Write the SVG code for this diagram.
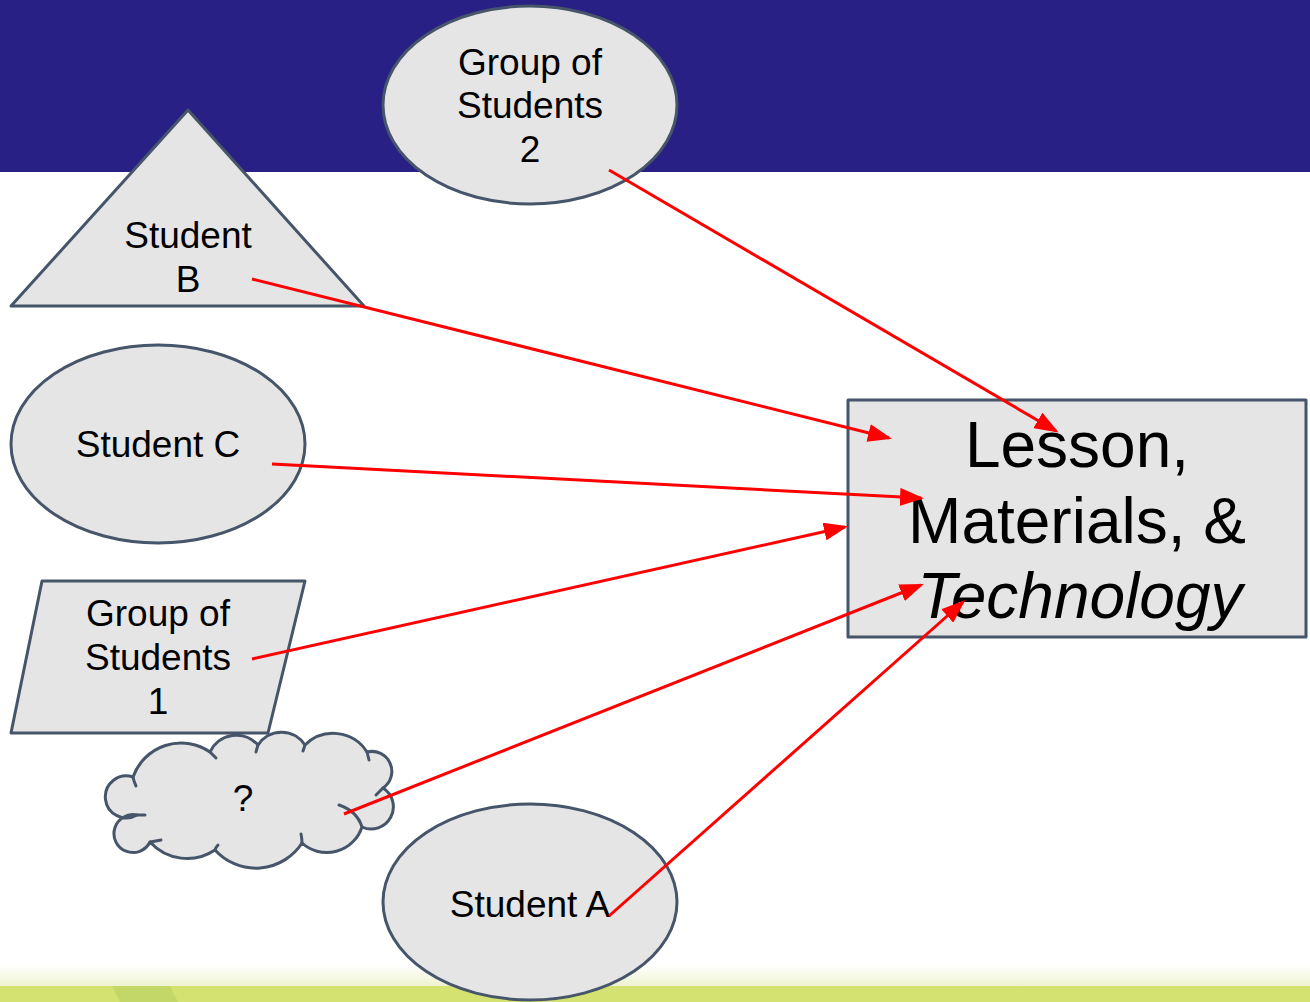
<svg xmlns="http://www.w3.org/2000/svg" width="1310" height="1002" viewBox="0 0 1310 1002">
<defs>
<style>
.shape{fill:#e5e5e5;stroke:#465569;stroke-width:3;stroke-linejoin:round}
.hook{fill:none;stroke:#465569;stroke-width:3;stroke-linecap:round}
.t{font-family:"Liberation Sans",Arial,sans-serif;font-size:37px;fill:#000;text-anchor:middle}
.big{font-family:"Liberation Sans",Arial,sans-serif;font-size:64px;fill:#000;text-anchor:middle}
.conn{stroke:#ff0000;stroke-width:3;fill:none;marker-end:url(#ah)}
</style>
<marker id="ah" markerWidth="8" markerHeight="6" refX="7" refY="3" orient="auto" markerUnits="strokeWidth">
<path d="M0,0 L8,3 L0,6 Z" fill="#ff0000"/>
</marker>
<linearGradient id="fade" x1="0" y1="0" x2="0" y2="1">
<stop offset="0" stop-color="#ffffff"/>
<stop offset="1" stop-color="#eef3cf"/>
</linearGradient>
</defs>
<rect x="0" y="0" width="1310" height="1002" fill="#ffffff"/>
<rect x="0" y="0" width="1310" height="172" fill="#282084"/>
<rect x="0" y="965" width="1310" height="21" fill="url(#fade)"/>
<rect x="0" y="986" width="1310" height="16" fill="#d3e270"/>
<polygon points="112,986 170,986 178,1002 120,1002" fill="#c3d768"/>

<g id="group2">
<ellipse class="shape" cx="530" cy="105" rx="147" ry="99"/>
<text class="t" x="530" y="75">Group of</text>
<text class="t" x="530" y="118">Students</text>
<text class="t" x="530" y="162">2</text>
</g>
<g id="studentB">
<polygon class="shape" points="188,110 364,306 11,306"/>
<text class="t" x="188" y="248">Student</text>
<text class="t" x="188" y="292">B</text>
</g>
<g id="studentC">
<ellipse class="shape" cx="158" cy="444" rx="147" ry="99"/>
<text class="t" x="158" y="457">Student C</text>
</g>
<g id="group1">
<polygon class="shape" points="42,581 305,581 268,733 11,733"/>
<text class="t" x="158" y="626">Group of</text>
<text class="t" x="158" y="670">Students</text>
<text class="t" x="158" y="714">1</text>
</g>
<g id="cloud">
<path class="shape" d="M133,777 A51,51 0 0 1 210,752 A29,29 0 0 1 258,745 A28,28 0 0 1 305,745 A40,40 0 0 1 367,752 A20,20 0 0 1 383,788 A22.2,22.2 0 0 1 362,827 A37,37 0 0 1 302,843 A55,55 0 0 1 215,850 A50,50 0 0 1 150,842 A19,19 0 1 1 137,815 A21,21 0 1 1 133,777 Z"/>
<path class="hook" d="M133,777 Q134,782 136,786"/>
<path class="hook" d="M210,752 Q213,755 216,758"/>
<path class="hook" d="M258,745 Q257,748 256,752"/>
<path class="hook" d="M305,745 Q304,748 303,751"/>
<path class="hook" d="M367,752 Q368,756 369,760"/>
<path class="hook" d="M383,788 Q379,792 376,795"/>
<path class="hook" d="M362,827 Q357,811 339,805"/>
<path class="hook" d="M302,843 Q302,838 301,834"/>
<path class="hook" d="M215,850 Q216,847 218,845"/>
<path class="hook" d="M150,842 Q156,841 161,840"/>
<path class="hook" d="M137,815 Q141,815 145,815"/>
<text class="t" x="243" y="811">?</text>
</g>
<g id="studentA">
<ellipse class="shape" cx="530" cy="902" rx="147" ry="98"/>
<text class="t" x="530" y="917">Student A</text>
</g>
<g id="lesson">
<rect class="shape" x="848" y="400" width="458" height="237"/>
<text class="big" x="1077" y="467">Lesson,</text>
<text class="big" x="1077" y="543">Materials, &amp;</text>
<text class="big" x="1080" y="618" font-style="italic">Technology</text>
</g>
<g id="connectors">
<line class="conn" x1="609" y1="170" x2="1056" y2="431"/>
<line class="conn" x1="252" y1="279" x2="889" y2="438"/>
<line class="conn" x1="272" y1="464" x2="921" y2="498"/>
<line class="conn" x1="252" y1="659" x2="845" y2="527"/>
<line class="conn" x1="344" y1="814" x2="921" y2="585"/>
<line class="conn" x1="609" y1="916" x2="963" y2="602"/>
</g>
</svg>
